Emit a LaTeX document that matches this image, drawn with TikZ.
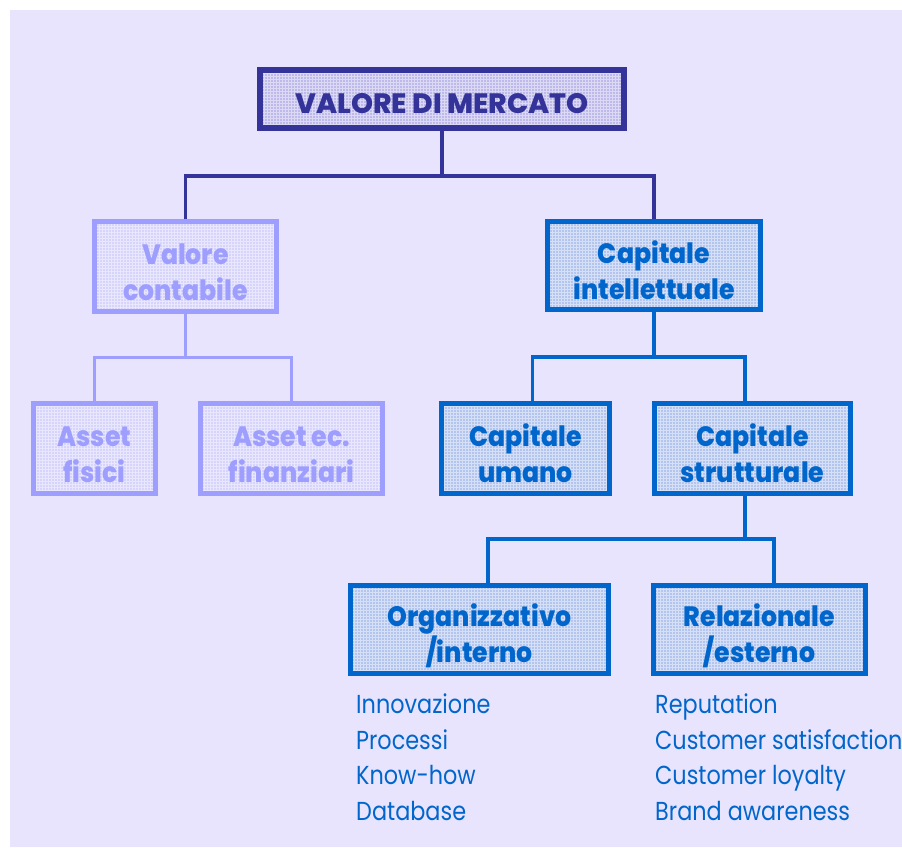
\documentclass[tikz,border=0pt]{standalone}
\usepackage{fontspec}
\usetikzlibrary{patterns}
\setmainfont{Poppins}
\newfontfamily\boxfont{Poppins ExtraBold}[FakeStretch=0.9]
\newfontfamily\capsfont{Poppins ExtraBold}
\newfontfamily\listfont{Poppins}[FakeStretch=0.86]
\definecolor{bgc}{HTML}{E8E4FE}
\definecolor{navy}{HTML}{333399}
\definecolor{navyfill}{HTML}{BDB9EA}
\definecolor{blu}{HTML}{0066CC}
\definecolor{blufill}{HTML}{B3C4EF}
\definecolor{lite}{HTML}{9E9EFF}
\definecolor{litefill}{HTML}{D6D4FB}
\tikzset{
  box/.style={draw, rectangle, inner sep=0pt, align=center,
    font=\boxfont\fontsize{28}{36}\selectfont,
    text height=67pt, text depth=0pt},
  navybox/.style={box, draw=navy, preaction={fill=navyfill}, pattern=grid,
    pattern color=white!45!navyfill, text=navy, line width=6pt},
  bluebox/.style={box, draw=blu, preaction={fill=blufill}, pattern=grid,
    pattern color=white!45!blufill, text=blu, line width=5pt},
  litebox/.style={box, draw=lite, preaction={fill=litefill}, pattern=grid,
    pattern color=white!45!litefill, text=lite, line width=5pt},
  navyline/.style={draw=navy, line width=3.5pt},
  blueline/.style={draw=blu, line width=3.5pt},
  liteline/.style={draw=lite, line width=3pt},
  listtext/.style={anchor=base west, inner sep=0pt, text=blu,
    font=\listfont\fontsize{26}{30}\selectfont}
}
\begin{document}
\begin{tikzpicture}[x=1pt,y=-1pt]
\useasboundingbox (0,0) rectangle (902,847);
\fill[bgc] (10,10) rectangle (902,847);

\node[navybox, minimum width=364pt, minimum height=58pt,
  font=\capsfont\fontsize{28}{36}\selectfont,
  text height=28pt, text depth=0pt] (vm) at (442,99) {VALORE DI MERCATO};

\node[litebox, minimum width=182pt, minimum height=90pt] (vc) at (185.5,266.5) {Valore\\contabile};
\node[bluebox, minimum width=213pt, minimum height=88pt] (ci) at (654,265.5) {Capitale\\intellettuale};

\node[litebox, minimum width=122pt, minimum height=90pt] (af) at (94.5,448.5) {Asset\\fisici};
\node[litebox, minimum width=182pt, minimum height=90pt] (aef) at (291.5,448.5) {Asset ec.\\finanziari};

\node[bluebox, minimum width=168pt, minimum height=90pt] (cu) at (525.5,448.5) {Capitale\\umano};
\node[bluebox, minimum width=196pt, minimum height=90pt] (cs) at (752.5,448.5) {Capitale\\strutturale};

\node[bluebox, minimum width=258pt, minimum height=88pt, text height=66pt] (org) at (479.5,629.5) {Organizzativo\\/interno};
\node[bluebox, minimum width=212pt, minimum height=88pt, text height=66pt] (rel) at (759.5,629.5) {Relazionale\\/esterno};

\coordinate (h1) at (0,176);
\coordinate (h2) at (0,357);
\coordinate (h3) at (0,539);

\draw[navyline] (vm.south) -- (vm.south |- h1);
\draw[navyline] (vc.north) |- (ci.north |- h1) -- (ci.north);

\draw[liteline] (vc.south) -- (vc.south |- h2);
\draw[liteline] (af.north) |- (aef.north |- h2) -- (aef.north);

\draw[blueline] (ci.south) -- (ci.south |- h2);
\draw[blueline] ([xshift=7pt]cu.north) |- ([xshift=-7.5pt]cs.north |- h2) -- ([xshift=-7.5pt]cs.north);

\draw[blueline] ([xshift=-7.5pt]cs.south) -- ([xshift=-7.5pt]cs.south |- h3);
\draw[blueline] ([xshift=8.5pt]org.north) |- ([xshift=14.5pt]rel.north |- h3) -- ([xshift=14.5pt]rel.north);

\node[listtext] (l1) at (356,713) {Innovazione};
\node[listtext] (l2) at (356,749) {Processi};
\node[listtext] (l3) at (356,784) {Know-how};
\node[listtext] (l4) at (356,820) {Database};

\node[listtext] (r1) at (655,713) {Reputation};
\node[listtext] (r2) at (655,749) {Customer satisfaction};
\node[listtext] (r3) at (655,784) {Customer loyalty};
\node[listtext] (r4) at (655,820) {Brand awareness};
\end{tikzpicture}
\end{document}
